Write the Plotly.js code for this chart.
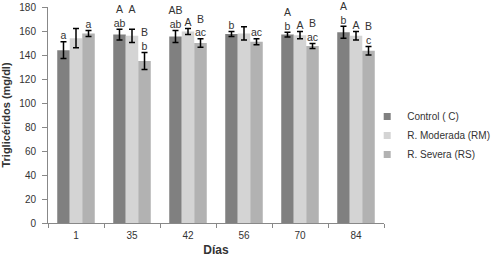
<!DOCTYPE html>
<html>
<head>
<meta charset="utf-8">
<script src="https://cdn.plot.ly/plotly-3.0.1.min.js"></script>
<style>html,body{margin:0;padding:0;background:#fff}#chart{width:497px;height:261px}</style>
</head>
<body>
<div id="chart"></div>
<script>
var days = ["1", "35", "42", "56", "70", "84"];
var seriesNames = ["Control ( C)", "R. Moderada (RM)", "R. Severa (RS)"];
var controlVals = [144, 157, 155.5, 157.5, 157, 159];
var controlErr = [7, 4.5, 5, 2, 2, 5];
var moderadaVals = [154, 156, 159.5, 158, 156.5, 156];
var moderadaErr = [8, 5.5, 2.5, 5.5, 3, 3.5];
var severaVals = [158, 135, 150, 151, 147.5, 143.5];
var severaErr = [2.5, 7, 3.5, 2.5, 2, 3.5];
var controlLabels = ["a", "A<br>ab", "AB<br>ab", "b", "A<br>b", "A<br>b"];
var moderadaLabels = ["", "A<br>&nbsp;", "A", "", "A", "A"];
var severaLabels = ["a", "B<br>b", "B<br>ac", "ac", "B<br>ac", "B<br>c"];
var colors = ["#808080", "#d4d4d4", "#b2b2b2"];

var FONT = "Liberation Sans, Arial, sans-serif";
var vals = [controlVals, moderadaVals, severaVals];
var errs = [controlErr, moderadaErr, severaErr];
var labs = [controlLabels, moderadaLabels, severaLabels];

var data = [];
for (var i = 0; i < 3; i++) {
  data.push({
    type: "bar", name: seriesNames[i], x: days, y: vals[i], showlegend: false,
    offsetgroup: String(i), marker: {color: colors[i]},
    error_y: {type: "data", array: errs[i], visible: true, color: "#000", thickness: 1.5, width: 3}
  });
}
for (var j = 0; j < 3; j++) {
  var tops = vals[j].map(function (v, k) { return v + errs[j][k]; });
  data.push({
    type: "scatter", mode: "text", x: days, y: tops, text: labs[j],
    offsetgroup: String(j), showlegend: false, hoverinfo: "skip",
    textposition: "top center", cliponaxis: false,
    textfont: {family: FONT, size: 10.5, color: "#333"}
  });
}
// legend entries (small square swatches like the reference)
for (var m = 0; m < 3; m++) {
  data.push({
    type: "scatter", mode: "markers", name: seriesNames[m], x: [days[0]], y: [null],
    offsetgroup: String(m), showlegend: true, hoverinfo: "skip",
    marker: {symbol: "square", size: 7, color: colors[m]}
  });
}

var layout = {
  width: 497, height: 261,
  margin: {l: 48, r: 113, t: 7, b: 38, autoexpand: false},
  paper_bgcolor: "#fff", plot_bgcolor: "#fff",
  barmode: "group", bargap: 0.33, bargroupgap: 0,
  scattermode: "group", scattergap: 0.33,
  font: {family: FONT, size: 10, color: "#333"},
  xaxis: {
    type: "category", showline: true, linecolor: "#888", linewidth: 1,
    ticks: "outside", tickson: "boundaries", ticklen: 4, tickcolor: "#888",
    showgrid: false, zeroline: false, ticklabelstandoff: 3,
    tickfont: {family: FONT, size: 10, color: "#333"},
    title: {text: "<b>Días</b>", font: {family: FONT, size: 12, color: "#333"}, standoff: 5}
  },
  yaxis: {
    range: [0, 180], dtick: 20, showline: true, linecolor: "#888", linewidth: 1,
    ticks: "outside", ticklen: 5, tickcolor: "#888", showgrid: false, zeroline: false,
    ticklabelstandoff: 4,
    tickfont: {family: FONT, size: 10, color: "#333"},
    title: {text: "<b>Triglicéridos (mg/dl)</b>", font: {family: FONT, size: 11, color: "#333"}, standoff: 6}
  },
  legend: {
    x: 0.95, xanchor: "left", y: 0.56, yanchor: "top",
    font: {family: FONT, size: 10, color: "#333"},
    itemwidth: 30, tracegroupgap: 0, bgcolor: "rgba(0,0,0,0)"
  },
  showlegend: true
};

Plotly.newPlot("chart", data, layout, {displayModeBar: false, staticPlot: true});
</script>
</body>
</html>
